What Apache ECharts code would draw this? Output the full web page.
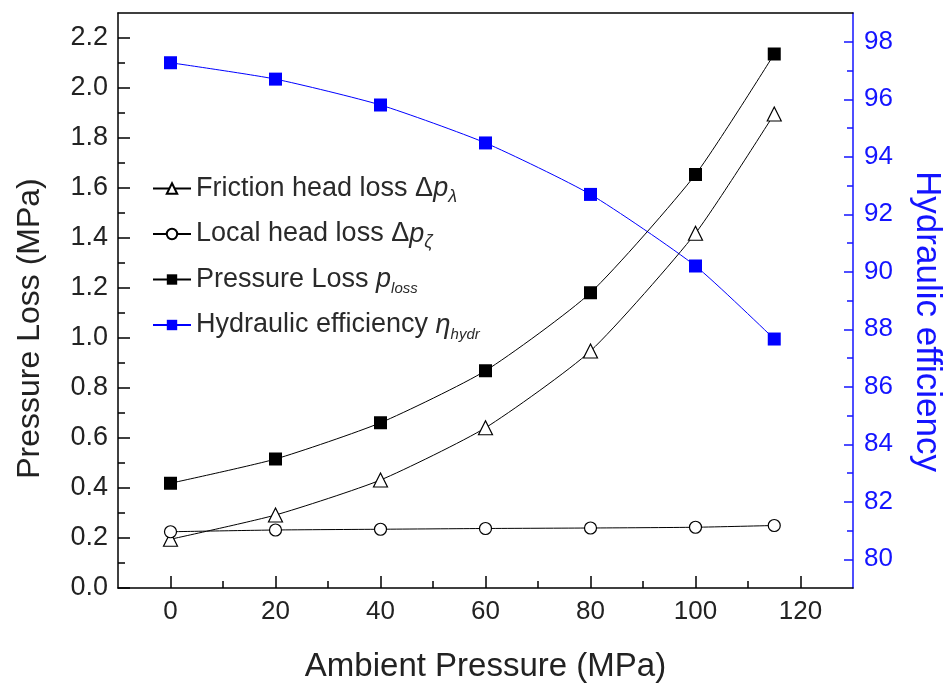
<!DOCTYPE html>
<html>
<head>
<meta charset="utf-8">
<script src="https://cdn.jsdelivr.net/npm/echarts@6/dist/echarts.min.js"></script>
<style>
html,body{margin:0;padding:0;background:#fff;}
#chart{width:947px;height:687px;}
</style>
</head>
<body>
<div id="chart"></div>
<script>
// ---- data ----
var ambientPressure = [0, 20, 40, 60, 80, 100, 115];
var frictionLoss   = [0.195, 0.292, 0.432, 0.641, 0.948, 1.419, 1.896];
var localLoss      = [0.225, 0.232, 0.235, 0.238, 0.240, 0.243, 0.250];
var pressureLoss   = [0.419, 0.516, 0.661, 0.869, 1.181, 1.654, 2.136];
var hydraulicEff   = [97.27, 96.70, 95.80, 94.48, 92.69, 90.20, 87.66];

var xMajorTicks = [0, 20, 40, 60, 80, 100, 120];
var xMinorTicks = [10, 30, 50, 70, 90, 110];
var yLeftMajor  = [0.0, 0.2, 0.4, 0.6, 0.8, 1.0, 1.2, 1.4, 1.6, 1.8, 2.0, 2.2];
var yLeftMinor  = [0.1, 0.3, 0.5, 0.7, 0.9, 1.1, 1.3, 1.5, 1.7, 1.9, 2.1];
var yRightMajor = [80, 82, 84, 86, 88, 90, 92, 94, 96, 98];
var yRightMinor = [81, 83, 85, 87, 89, 91, 93, 95, 97];

var seriesNames = ['friction', 'local', 'pressure', 'efficiency'];
var legendTexts = {
  friction:   '{t|Friction head loss }{g|\u0394}{i|p}{s|\u03bb}',
  local:      '{t|Local head loss }{g|\u0394}{i|p}{s|\u03b6}',
  pressure:   '{t|Pressure Loss }{i|p}{ss|loss}',
  efficiency: '{t|Hydraulic efficiency }{i|\u03b7}{ss|hydr}'
};
var xName = 'Ambient Pressure (MPa)';
var yLeftName = 'Pressure Loss (MPa)';
var yRightName = 'Hydraulic efficiency';

// ---- chart ----
var FONT = '"Liberation Sans", Arial, sans-serif';
var BLUE = '#1414ff';
var TXT = '#222';
var LTXT = '#2a2a2a';

function pairs(xs, ys) { return xs.map(function (x, i) { return [x, ys[i]]; }); }

var chart = echarts.init(document.getElementById('chart'), null, {renderer: 'canvas'});

var option = {
  backgroundColor: '#fff',
  animation: false,
  textStyle: {fontFamily: FONT},
  grid: {left: 118, right: 94, top: 13, bottom: 99, containLabel: false, outerBoundsMode: 'none'},
  legend: {
    data: seriesNames,
    orient: 'vertical',
    left: 147,
    top: 170,
    itemWidth: 38,
    itemHeight: 13,
    itemGap: 15,
    formatter: function (n) { return legendTexts[n]; },
    textStyle: {
      fontFamily: FONT,
      rich: {
        t: {fontSize: 27, color: LTXT, fontFamily: FONT, lineHeight: 34, verticalAlign: 'middle'},
        g: {fontSize: 27, color: LTXT, fontFamily: FONT, lineHeight: 34, verticalAlign: 'middle'},
        i: {fontSize: 27, color: LTXT, fontFamily: FONT, fontStyle: 'italic', lineHeight: 34, verticalAlign: 'middle'},
        s: {fontSize: 18, color: LTXT, fontFamily: FONT, fontStyle: 'italic', lineHeight: 18, verticalAlign: 'bottom'},
        ss: {fontSize: 15, color: LTXT, fontFamily: FONT, fontStyle: 'italic', lineHeight: 15, verticalAlign: 'bottom'}
      }
    }
  },
  xAxis: [
    {
      type: 'value', min: -10, max: 130, position: 'bottom',
      name: xName, nameLocation: 'middle', nameGap: 62,
      nameTextStyle: {fontSize: 33, color: TXT, fontFamily: FONT},
      axisLine: {show: true, onZero: false, lineStyle: {color: '#000', width: 1.5}},
      axisTick: {show: true, inside: true, length: 12, customValues: xMajorTicks, lineStyle: {color: '#000', width: 1.5}},
      axisLabel: {show: true, customValues: xMajorTicks, fontSize: 26, color: TXT, margin: 11, fontFamily: FONT},
      splitLine: {show: false}
    },
    {
      type: 'value', min: -10, max: 130, position: 'bottom',
      axisLine: {show: false, onZero: false},
      axisTick: {show: true, inside: true, length: 7, customValues: xMinorTicks, lineStyle: {color: '#000', width: 1.5}},
      axisLabel: {show: false},
      splitLine: {show: false}
    },
    {
      type: 'value', min: -10, max: 130, position: 'top',
      axisLine: {show: true, onZero: false, lineStyle: {color: '#000', width: 1.5}},
      axisTick: {show: false},
      axisLabel: {show: false},
      splitLine: {show: false}
    }
  ],
  yAxis: [
    {
      type: 'value', min: 0, max: 2.3, position: 'left',
      name: yLeftName, nameLocation: 'middle', nameGap: 72, nameRotate: 90,
      nameTextStyle: {fontSize: 32, color: TXT, fontFamily: FONT, padding: [0, 56, 0, 0]},
      axisLine: {show: true, onZero: false, lineStyle: {color: '#000', width: 1.5}},
      axisTick: {show: true, inside: true, length: 12, customValues: yLeftMajor, lineStyle: {color: '#000', width: 1.5}},
      axisLabel: {show: true, customValues: yLeftMajor, fontSize: 27, color: TXT, margin: 10, fontFamily: FONT,
        formatter: function (v) { return v.toFixed(1); }},
      splitLine: {show: false}
    },
    {
      type: 'value', min: 0, max: 2.3, position: 'left',
      axisLine: {show: false, onZero: false},
      axisTick: {show: true, inside: true, length: 7, customValues: yLeftMinor, lineStyle: {color: '#000', width: 1.5}},
      axisLabel: {show: false},
      splitLine: {show: false}
    },
    {
      type: 'value', min: 79, max: 99, position: 'right',
      name: yRightName, nameLocation: 'middle', nameGap: 56, nameRotate: -90,
      nameTextStyle: {fontSize: 35, color: BLUE, fontFamily: FONT, padding: [0, 0, 0, 42]},
      axisLine: {show: true, onZero: false, lineStyle: {color: BLUE, width: 1.5}},
      axisTick: {show: true, inside: true, length: 9, customValues: yRightMajor, lineStyle: {color: BLUE, width: 1.5}},
      axisLabel: {show: true, customValues: yRightMajor, fontSize: 26, color: BLUE, margin: 11, fontFamily: FONT},
      splitLine: {show: false}
    },
    {
      type: 'value', min: 79, max: 99, position: 'right',
      axisLine: {show: false, onZero: false},
      axisTick: {show: true, inside: true, length: 6, customValues: yRightMinor, lineStyle: {color: BLUE, width: 1.5}},
      axisLabel: {show: false},
      splitLine: {show: false}
    }
  ],
  series: [
    {
      name: 'friction', type: 'line', xAxisIndex: 0, yAxisIndex: 0,
      data: pairs(ambientPressure, frictionLoss), smooth: 0.2,
      symbol: 'triangle', symbolSize: 14,
      itemStyle: {color: '#fff', borderColor: '#000', borderWidth: 1.2},
      lineStyle: {color: '#000', width: 1}, z: 3
    },
    {
      name: 'local', type: 'line', xAxisIndex: 0, yAxisIndex: 0,
      data: pairs(ambientPressure, localLoss), smooth: 0.2,
      symbol: 'circle', symbolSize: 12,
      itemStyle: {color: '#fff', borderColor: '#000', borderWidth: 1.2},
      lineStyle: {color: '#000', width: 1}, z: 3
    },
    {
      name: 'pressure', type: 'line', xAxisIndex: 0, yAxisIndex: 0,
      data: pairs(ambientPressure, pressureLoss), smooth: 0.2,
      symbol: 'rect', symbolSize: 13,
      itemStyle: {color: '#000', borderColor: '#000', borderWidth: 0},
      lineStyle: {color: '#000', width: 1}, z: 3
    },
    {
      name: 'efficiency', type: 'line', xAxisIndex: 0, yAxisIndex: 2,
      data: pairs(ambientPressure, hydraulicEff), smooth: 0.2,
      symbol: 'rect', symbolSize: 13,
      itemStyle: {color: '#0000ff', borderWidth: 0},
      lineStyle: {color: '#0000ff', width: 1}, z: 2
    }
  ]
};
chart.setOption(option);
</script>
</body>
</html>
